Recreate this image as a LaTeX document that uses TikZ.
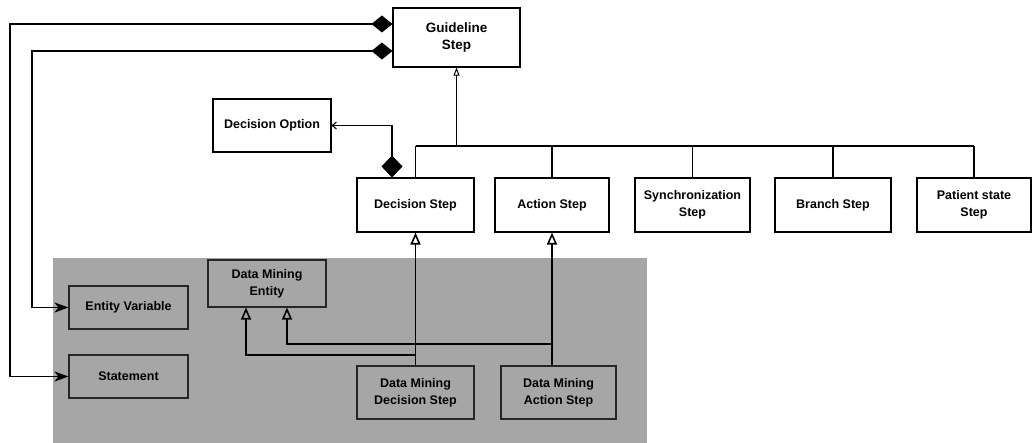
\documentclass[tikz,border=0pt]{standalone}
\usepackage{fontspec}
\setmainfont{Liberation Sans}
\usetikzlibrary{arrows.meta}
\definecolor{dmgray}{gray}{0.65}
\begin{document}
\begin{tikzpicture}[x=1pt,y=-1pt,
  cls/.style={draw=black, line width=1.1pt, fill=white, align=center,
    font=\fontsize{12.5}{17}\selectfont\bfseries, inner sep=0pt},
  dmcls/.style={cls, draw=black!85, fill=dmgray},
  conn/.style={line width=1.1pt},
  compnav/.style={conn, {Diamond[length=21pt,width=17pt]}-{Stealth[length=14pt,width=10pt,inset=4pt]}},
  compnavsmall/.style={conn, {Diamond[length=22pt,width=21pt]}-{Straight Barb[length=4pt,width=7pt]}},
  gen/.style={conn, -{Triangle[open,length=12pt,width=10pt,line width=1.6pt]}},
  gensmall/.style={conn, -{Triangle[open,length=8pt,width=6pt,line width=1pt]}}
]
\useasboundingbox (0,0) rectangle (1035,443);
\fill[white] (0,0) rectangle (1035,443);

% shaded data mining extension
\fill[dmgray] (53,258) rectangle (647,443);

% GLIF guideline step classes
\node[cls, minimum width=127pt, minimum height=59pt, font=\fontsize{13.5}{17}\selectfont\bfseries]
  (gs) at (456.5,37.5) {Guideline\\Step};
\node[cls, minimum width=118pt, minimum height=53pt] (dopt) at (272,125.5) {Decision Option};
\node[cls, minimum width=117pt, minimum height=54pt] (ds) at (415.5,205) {Decision Step};
\node[cls, minimum width=114pt, minimum height=54pt] (as) at (552,205) {Action Step};
\node[cls, minimum width=115pt, minimum height=54pt] (sy) at (692.5,205) {Synchronization\\Step};
\node[cls, minimum width=116pt, minimum height=54pt] (br) at (833,205) {Branch Step};
\node[cls, minimum width=114pt, minimum height=54pt] (ps) at (974,205) {Patient state\\Step};

% data mining classes
\node[dmcls, minimum width=118pt, minimum height=47pt] (dme) at (267,283.5) {Data Mining\\Entity};
\node[dmcls, minimum width=119pt, minimum height=43pt] (ev) at (128.5,307.5) {Entity Variable};
\node[dmcls, minimum width=119pt, minimum height=43pt] (st) at (128.5,376.5) {Statement};
\node[dmcls, minimum width=117pt, minimum height=53pt] (dmds) at (415.5,392.5) {Data Mining\\Decision Step};
\node[dmcls, minimum width=115pt, minimum height=53pt] (dmas) at (558.5,392.5) {Data Mining\\Action Step};

% compositions of the guideline step
\draw[compnav] (gs.west |- 0,24) -- (10,24) |- (st.west);
\draw[compnav] (gs.west |- 0,51) -- (32,51) |- (ev.west);
\draw[compnavsmall] (ds.north -| 392,0) |- (dopt.east);

% step subclasses of the guideline step
\draw[gensmall] (gs.south |- 0,146) -- (gs.south);
\draw[conn] (ds.north |- 0,146) -- (ps.north |- 0,146);
\foreach \n in {ds,as,sy,br,ps}
  \draw[conn] (\n.north) -- (\n.north |- 0,146);

% data mining step generalisations
\draw[gen] (ds.south |- dmds.north) -- (ds.south);
\draw[gen] (ds.south |- 0,355) -| (dme.south -| 246,0);
\draw[gen] (as.south |- dmas.north) -- (as.south);
\draw[gen] (as.south |- 0,344) -| (dme.south -| 287,0);
\end{tikzpicture}
\end{document}
